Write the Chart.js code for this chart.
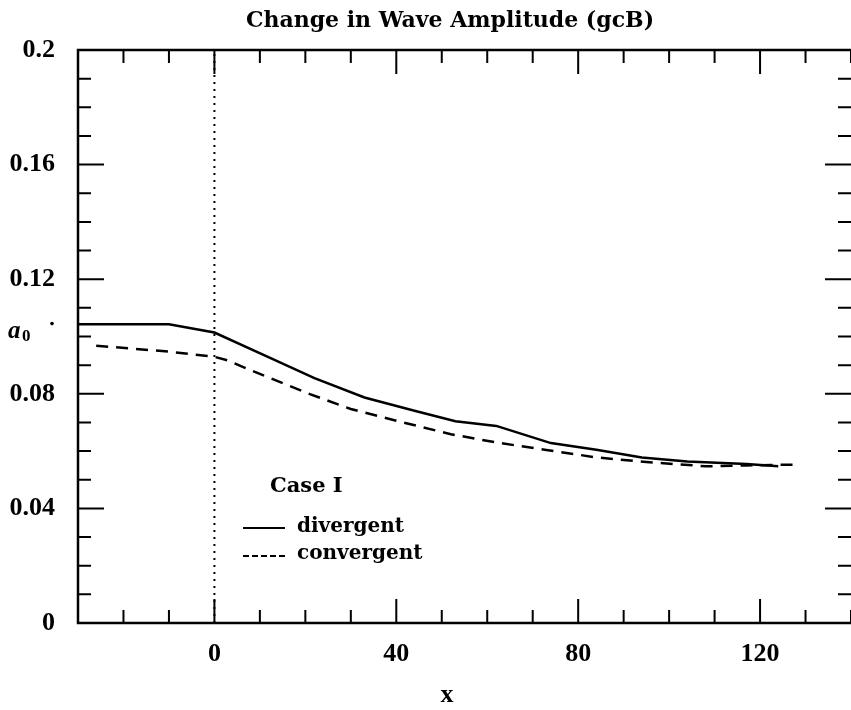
<!DOCTYPE html>
<html>
<head>
<meta charset="utf-8">
<script src="https://cdn.jsdelivr.net/npm/chart.js@4.4.0/dist/chart.umd.min.js"></script>
<style>
  html, body { margin: 0; padding: 0; background: #fff; }
  #wrap { width: 851px; height: 710px; }
</style>
</head>
<body>
<div id="wrap"><canvas id="chart" width="851" height="710"></canvas></div>
<script>
// values
const divergentX = [-30, -10, 0, 12, 22, 33, 44, 53, 62, 74, 84, 94, 104, 117, 124];
const divergentY = [0.1043, 0.1043, 0.1014, 0.0927, 0.0855, 0.0787, 0.0741, 0.0704, 0.0688, 0.0628, 0.0605, 0.0578, 0.0564, 0.0555, 0.0547];

const convergentX = [-26, -10, 0, 3, 7, 11, 21, 30, 40, 52, 62, 73, 84, 95, 108, 117, 128];
const convergentY = [0.0968, 0.0947, 0.0929, 0.0916, 0.0889, 0.0863, 0.0799, 0.0747, 0.0706, 0.0659, 0.0630, 0.0604, 0.0578, 0.0562, 0.0547, 0.0550, 0.0553];

const xTickLabels = [0, 40, 80, 120];
const yTickLabels = ['0', '0.04', '0.08', '0.12', '0.16', '0.2'];
const a0 = 0.1045;
const boundaryX = 0;

const toPoints = (xs, ys) => xs.map((x, i) => ({x: x, y: ys[i]}));

const serif = '"Liberation Serif", "Times New Roman", serif';
const dejavu = '"DejaVu Serif", serif';

// white page, box frame, inward ticks, labels drawn on canvas
const decorations = {
  id: 'decorations',
  beforeDraw(chart) {
    const ctx = chart.ctx;
    ctx.save();
    ctx.fillStyle = '#fff';
    ctx.fillRect(0, 0, chart.width, chart.height);
    ctx.restore();
  },
  afterDraw(chart) {
    const {ctx, chartArea: a, scales: {x, y}} = chart;
    ctx.save();
    ctx.strokeStyle = '#000';
    ctx.fillStyle = '#000';

    // frame (right side falls off the page in the scan)
    ctx.lineWidth = 2.5;
    ctx.beginPath();
    ctx.moveTo(a.right, a.top);
    ctx.lineTo(a.left, a.top);
    ctx.lineTo(a.left, a.bottom);
    ctx.lineTo(a.right, a.bottom);
    ctx.stroke();

    ctx.lineWidth = 2;
    x.ticks.forEach(t => {
      if (Math.abs(t.value % 10) > 1e-6) return;
      const px = x.getPixelForValue(t.value);
      const len = t.value % 40 === 0 ? 24 : 13;
      ctx.beginPath();
      ctx.moveTo(px, a.bottom); ctx.lineTo(px, a.bottom - len);
      ctx.moveTo(px, a.top); ctx.lineTo(px, a.top + len);
      ctx.stroke();
    });
    y.ticks.forEach(t => {
      const k = Math.round(t.value / 0.01);
      const py = y.getPixelForValue(t.value);
      const len = k % 4 === 0 ? 26 : 13;
      ctx.beginPath();
      ctx.moveTo(a.left, py); ctx.lineTo(a.left + len, py);
      ctx.moveTo(a.right, py); ctx.lineTo(a.right - len, py);
      ctx.stroke();
    });

    // title
    ctx.font = 'bold 22px ' + dejavu;
    ctx.textAlign = 'center';
    ctx.textBaseline = 'alphabetic';
    ctx.fillText('Change in Wave Amplitude (gcB)', 450, 27);

    // x axis label
    ctx.font = 'bold 26px ' + serif;
    ctx.fillText('x', 447, 702);

    // a0 marker
    const ya = y.getPixelForValue(a0);
    ctx.textAlign = 'left';
    ctx.font = 'italic bold 25px ' + serif;
    ctx.fillText('a', 8, ya + 14);
    ctx.font = 'bold 17px ' + serif;
    ctx.fillText('0', 22, ya + 17);
    ctx.beginPath();
    ctx.arc(52, ya, 1.8, 0, Math.PI * 2);
    ctx.fill();

    // legend
    ctx.font = 'bold 21px ' + dejavu;
    ctx.fillText('Case I', 270, 492);
    ctx.font = 'bold 20px ' + dejavu;
    ctx.fillText('divergent', 297, 532);
    ctx.fillText('convergent', 297, 559);
    ctx.lineWidth = 2.2;
    ctx.beginPath();
    ctx.moveTo(243, 528); ctx.lineTo(285, 528);
    ctx.stroke();
    ctx.setLineDash([6, 3]);
    ctx.beginPath();
    ctx.moveTo(243, 556); ctx.lineTo(285, 556);
    ctx.stroke();
    ctx.restore();
  }
};

new Chart(document.getElementById('chart'), {
  type: 'scatter',
  data: {
    datasets: [
      {
        label: 'divergent',
        data: toPoints(divergentX, divergentY),
        showLine: true,
        borderColor: '#000',
        borderWidth: 2.5,
        pointRadius: 0,
        tension: 0
      },
      {
        label: 'convergent',
        data: toPoints(convergentX, convergentY),
        showLine: true,
        borderColor: '#000',
        borderWidth: 2.5,
        borderDash: [12, 8],
        pointRadius: 0,
        tension: 0
      },
      {
        label: 'x = 0',
        data: [{x: boundaryX, y: 0}, {x: boundaryX, y: 0.2}],
        showLine: true,
        borderColor: '#000',
        borderWidth: 2,
        borderDash: [2, 5],
        pointRadius: 0
      }
    ]
  },
  options: {
    responsive: false,
    animation: false,
    layout: {padding: {top: 50, left: 0, right: 0, bottom: 0}},
    plugins: {
      legend: {display: false},
      title: {display: false},
      tooltip: {enabled: false}
    },
    scales: {
      x: {
        type: 'linear',
        min: -30,
        max: 140,
        grid: {display: false},
        border: {display: false},
        afterFit: s => { s.height = 87; },
        ticks: {
          stepSize: 10,
          autoSkip: false,
          maxRotation: 0,
          padding: 0,
          color: '#000',
          font: {family: serif, size: 26, weight: 'bold', lineHeight: 1.8},
          callback: v => xTickLabels.includes(v) ? String(v) : ''
        }
      },
      y: {
        min: 0,
        max: 0.2,
        grid: {display: false},
        border: {display: false},
        afterFit: s => { s.width = 78; },
        ticks: {
          stepSize: 0.01,
          autoSkip: false,
          padding: 15,
          color: '#000',
          font: {family: serif, size: 26, weight: 'bold'},
          callback: v => {
            const i = Math.round(v / 0.04);
            return Math.abs(v - i * 0.04) < 1e-6 ? yTickLabels[i] : '';
          }
        }
      }
    }
  },
  plugins: [decorations]
});
</script>
</body>
</html>
